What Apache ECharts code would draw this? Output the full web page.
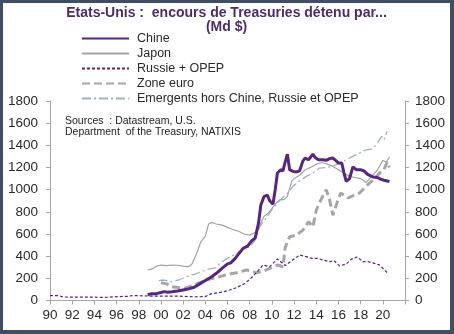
<!DOCTYPE html>
<html><head><meta charset="utf-8">
<script src="https://cdn.jsdelivr.net/npm/echarts@6/dist/echarts.min.js"></script>
<style>
html,body{margin:0;padding:0;background:#3e4f65;width:454px;height:334px;overflow:hidden}
#c{position:absolute;left:3px;top:3px;width:447px;height:327px;background:#fff}
</style></head><body><div id="c"></div>
<script>
// Data (year, value in Md $)
const chineYears = [1998.8,1999.2,1999.6,2000.0,2000.3,2000.6,2001.0,2001.5,2002.0,2002.5,2003.0,2003.5,2004.0,2004.5,2005.0,2005.5,2006.0,2006.3,2006.7,2007.0,2007.4,2007.8,2008.2,2008.5,2008.8,2009.0,2009.3,2009.6,2009.8,2010.1,2010.3,2010.5,2010.8,2011.0,2011.2,2011.4,2011.6,2011.9,2012.2,2012.5,2012.8,2013.0,2013.3,2013.7,2013.9,2014.2,2014.6,2014.9,2015.2,2015.5,2015.8,2016.0,2016.3,2016.5,2016.7,2017.0,2017.3,2017.6,2018.0,2018.3,2018.6,2018.9,2019.1,2019.5,2019.8,2020.1,2020.4,2020.6];
const chineValues = [55,60,62,72,80,75,78,85,95,105,120,150,180,210,245,290,330,340,380,420,470,490,540,565,700,860,940,950,900,870,1000,1150,1180,1170,1250,1320,1180,1165,1160,1170,1260,1285,1270,1320,1290,1270,1270,1265,1280,1285,1260,1240,1240,1150,1075,1100,1205,1180,1180,1170,1140,1125,1115,1110,1095,1085,1078,1072];

const japonYears = [1998.8,1999.2,1999.6,2000.0,2000.5,2001.0,2001.5,2002.0,2002.5,2002.8,2003.2,2003.6,2004.0,2004.3,2004.6,2005.0,2005.5,2006.0,2006.5,2007.0,2007.5,2008.0,2008.4,2008.7,2009.0,2009.3,2009.7,2010.0,2010.4,2010.7,2011.1,2011.4,2011.8,2012.0,2012.5,2013.0,2013.5,2014.0,2014.5,2015.0,2015.5,2016.0,2016.5,2017.0,2017.5,2018.0,2018.5,2019.0,2019.5,2020.0,2020.3,2020.6];
const japonValues = [275,285,310,320,315,320,318,310,305,330,420,530,580,690,705,690,680,660,640,625,600,590,610,630,700,760,790,830,880,910,910,940,1080,1100,1130,1180,1200,1230,1245,1230,1210,1180,1150,1120,1110,1100,1065,1120,1175,1265,1250,1295];

const russieYears = [1990.0,1990.8,1991.2,1992.0,1993.0,1994.0,1995.0,1995.6,1996.2,1997.0,1997.5,1998.0,1999.0,2000.0,2001.0,2002.0,2003.0,2004.0,2004.5,2005.5,2006.2,2006.8,2007.5,2008.0,2008.5,2009.2,2009.8,2010.5,2011.2,2011.8,2012.5,2013.1,2013.6,2014.1,2014.6,2015.2,2015.6,2016.1,2016.7,2017.2,2017.7,2018.2,2018.7,2019.1,2019.7,2020.1,2020.4];
const russieValues = [45,43,32,30,30,30,28,32,35,38,45,43,40,40,40,38,33,35,60,75,95,115,150,190,240,320,305,375,315,360,410,396,380,380,366,350,360,312,330,375,393,350,350,339,321,280,251];

const euroYears = [2000.0,2000.5,2001.0,2001.7,2002.3,2003.0,2003.5,2004.2,2004.9,2005.3,2006.0,2006.8,2007.7,2008.2,2008.6,2009.2,2009.6,2010.0,2010.5,2011.0,2011.2,2011.6,2012.2,2012.8,2013.3,2013.7,2014.0,2014.5,2014.9,2015.2,2015.5,2015.9,2016.2,2016.9,2017.4,2017.9,2018.4,2018.8,2019.3,2019.7,2020.1,2020.4,2020.6];
const euroValues = [160,150,125,115,113,140,160,190,205,215,235,250,275,265,250,265,280,300,320,305,480,575,590,635,710,665,815,925,1000,910,770,890,970,925,950,970,1020,1060,1100,1150,1180,1250,1200];

const emergYears = [1999.8,2000.2,2001.0,2001.6,2002.3,2003.0,2003.5,2004.2,2004.9,2005.3,2006.0,2006.8,2007.5,2008.0,2008.5,2008.9,2009.3,2009.6,2010.0,2010.5,2011.0,2011.3,2011.9,2012.5,2013.1,2013.7,2014.3,2014.9,2015.5,2016.1,2016.7,2017.3,2017.9,2018.5,2019.1,2019.5,2019.9,2020.1,2020.4];
const emergValues = [180,185,170,185,215,235,255,280,295,335,380,425,465,485,545,665,720,760,820,880,930,955,1030,1080,1120,1150,1195,1200,1210,1240,1270,1300,1330,1360,1370,1420,1480,1450,1530];

const yTicks = [0,200,400,600,800,1000,1200,1400,1600,1800];
const xTickLabels = ['90','92','94','96','98','00','02','04','06','08','10','12','14','16','18','20'];

const zip = (xs, ys) => xs.map((x, i) => [x, ys[i]]);
const purple = '#5a2581';
const axisCol = '#a6a6a6';
const txt = '#2a2a2a';
const ff = 'Liberation Sans, Arial';

const chart = echarts.init(document.getElementById('c'));
const yAxisCommon = {
  type: 'value', min: yTicks[0], max: yTicks[yTicks.length-1], interval: 200,
  axisLine: {show: true, lineStyle: {color: axisCol}},
  axisTick: {show: true, length: 4, lineStyle: {color: axisCol}},
  splitLine: {show: false},
  axisLabel: {color: txt, fontSize: 13.5, fontFamily: ff, formatter: v => String(v)}
};
chart.setOption({
  animation: false,
  title: [{
    text: 'Etats-Unis :  encours de Treasuries détenu par...\n(Md $)',
    left: 'center', top: 3, padding: 0,
    textStyle: {color: '#4f2a6e', fontSize: 14, fontWeight: 'bold', fontFamily: ff, lineHeight: 14}
  }, {
    text: 'Sources  : Datastream, U.S.\nDepartment  of the Treasury, NATIXIS',
    left: 62, top: 113, padding: 0,
    textStyle: {color: '#222', fontSize: 10.5, fontWeight: 'normal', fontFamily: ff, lineHeight: 11}
  }],
  legend: {
    orient: 'vertical', left: 78, top: 29, padding: 0, itemWidth: 47, itemHeight: 12, itemGap: 2,
    itemStyle: {opacity: 0},
    textStyle: {color: txt, fontSize: 12.5, fontFamily: ff, lineHeight: 12, padding: [0,0,0,3]},
    data: ['Chine','Japon','Russie + OPEP','Zone euro','Emergents hors Chine, Russie et OPEP']
  },
  grid: {left: 47, right: 45, top: 98, bottom: 29.5},
  xAxis: {
    type: 'value', min: 1990, max: 2022, interval: 2,
    axisLine: {lineStyle: {color: axisCol}},
    axisTick: {show: true, length: 4, lineStyle: {color: axisCol}},
    splitLine: {show: false},
    axisLabel: {color: txt, fontSize: 13.5, fontFamily: ff, margin: 8,
      formatter: v => { const i = Math.round((v - 1990) / 2); return xTickLabels[i] || ''; }}
  },
  yAxis: [
    Object.assign({position: 'left'}, yAxisCommon, {axisLabel: Object.assign({}, yAxisCommon.axisLabel, {margin: 12})}),
    Object.assign({position: 'right'}, yAxisCommon, {axisLabel: Object.assign({}, yAxisCommon.axisLabel, {margin: 10})})
  ],
  series: [
    {name: 'Japon', type: 'line', symbol: 'none', data: zip(japonYears, japonValues), z: 2,
     lineStyle: {color: '#a3a3a3', width: 1.2}, itemStyle: {color: '#a3a3a3'}},
    {name: 'Emergents hors Chine, Russie et OPEP', type: 'line', symbol: 'none', data: zip(emergYears, emergValues), z: 2,
     lineStyle: {color: '#9db2c0', width: 1.3, type: [9,3,2,3]}, itemStyle: {color: '#9db2c0'}},
    {name: 'Zone euro', type: 'line', symbol: 'none', data: zip(euroYears, euroValues), z: 3,
     lineStyle: {color: '#a6a6a6', width: 3, type: [8,4]}, itemStyle: {color: '#a6a6a6'}},
    {name: 'Russie + OPEP', type: 'line', symbol: 'none', data: zip(russieYears, russieValues), z: 3,
     lineStyle: {color: purple, width: 1.2, type: [3,2]}, itemStyle: {color: purple}},
    {name: 'Chine', type: 'line', symbol: 'none', data: zip(chineYears, chineValues), z: 4,
     lineStyle: {color: purple, width: 3}, itemStyle: {color: purple}}
  ]
});
</script></body></html>
